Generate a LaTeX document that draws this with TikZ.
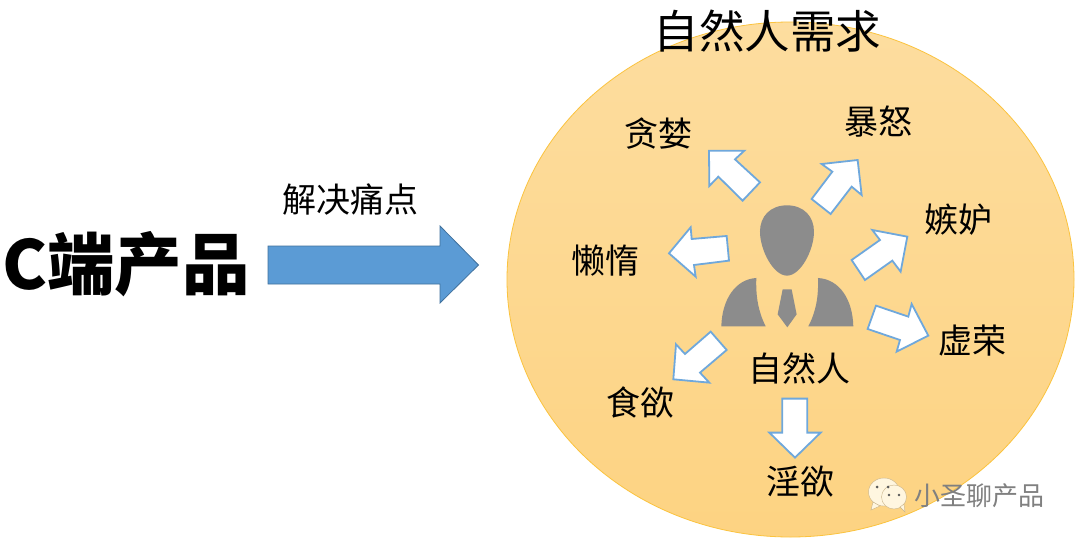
\documentclass[tikz,border=0pt]{standalone}
\usepackage{fontspec}
\setmainfont{Noto Sans CJK SC}
\definecolor{circtop}{HTML}{FDDD9F}
\definecolor{circbot}{HTML}{FDD382}
\definecolor{circline}{HTML}{FBC33E}
\definecolor{bluefill}{HTML}{5B9BD5}
\definecolor{blueline}{HTML}{41719C}
\definecolor{arrowline}{HTML}{6FA8DC}
\definecolor{persongray}{HTML}{8C8C8C}
\definecolor{wmbub}{HTML}{FFF6E0}
\definecolor{wmline}{HTML}{C9B48A}
\tikzset{
  lab/.style={inner sep=0pt, text=black, font=\fontsize{34}{34}\selectfont},
  wh/.style={draw=arrowline, fill=white, line width=1.8pt, line join=miter},
  person/.style={fill=persongray, draw=none},
  bubble/.style={fill=wmbub, draw=wmline, line width=0.4pt},
}
\begin{document}
\begin{tikzpicture}[x=1pt,y=-1pt]
\useasboundingbox (0,0) rectangle (1080,544);
\fill[white] (0,0) rectangle (1080,544);
% circle
\path[top color=circtop,bottom color=circbot,draw=circline,line width=0.8pt] (790.5,279.5) ellipse [x radius=283.5, y radius=257.5];
% blue arrow
\draw[fill=bluefill,draw=blueline,line width=0.8pt] (268,246) -- (440,246) -- (440,226) -- (478.5,265) -- (440,303) -- (440,284) -- (268,284) -- cycle;
% texts
\node[inner sep=0pt,font=\fontsize{67.5}{67.5}\bfseries\selectfont] (cprod) at (126,264) {C端产品};
\node[lab] (solve) at (350,200) {解决痛点};
\node[inner sep=0pt,font=\fontsize{45.5}{45.5}\selectfont] (title) at (767.5,31) {自然人需求};
\node[lab] (a1) at (658,134) {贪婪};
\node[lab] (a2) at (878,122) {暴怒};
\node[lab] (a3) at (958,220) {嫉妒};
\node[lab] (a4) at (972,341) {虚荣};
\node[lab] (a5) at (640,402) {食欲};
\node[lab] (a6) at (800,482) {淫欲};
\node[lab] (a7) at (605,261) {懒惰};
\node[lab] (self) at (799.5,368) {自然人};
% person and arrows, in crop coordinates
\begin{scope}[shift={(660,130)},x=0.3333pt,y=-0.3333pt]
\fill[person] (381,226) .. controls (330,226) and (300,260) .. (300,305) .. controls (300,360) and (340,437) .. (381,437) .. controls (422,437) and (462,360) .. (462,305) .. controls (462,260) and (432,226) .. (381,226) -- cycle;
\fill[person] (184,589) .. controls (186,510) and (225,448) .. (289,444) .. controls (287,500) and (295,545) .. (317,589) -- cycle;
\fill[person] (580,589) .. controls (578,510) and (540,448) .. (474,444) .. controls (476,500) and (468,545) .. (445,589) -- cycle;
\fill[person] (368,478) -- (395,478) -- (410,553) -- (382,592) -- (353,553) -- cycle;
\draw[wh] (147,62) -- (253,62) -- (225,88) -- (300,157) -- (248,212) -- (175,140) -- (148,168) -- cycle;
\draw[wh] (593,90) -- (605,195) -- (575,170) -- (512,252) -- (455,207) -- (517,125) -- (485,102) -- cycle;
\draw[wh] (742,320) -- (722,425) -- (697,392) -- (615,450) -- (575,390) -- (660,330) -- (637,300) -- cycle;
\draw[wh] (805,617) -- (710,665) -- (720,630) -- (623,597) -- (648,527) -- (745,560) -- (755,522) -- cycle;
\draw[wh] (405,983) -- (328,908) -- (367,908) -- (367,806) -- (442,806) -- (442,908) -- (482,908) -- cycle;
\draw[wh] (40,748) -- (148,758) -- (120,728) -- (200,660) -- (152,605) -- (75,672) -- (48,643) -- cycle;
\draw[wh] (27,370) -- (92,292) -- (95,327) -- (200,318) -- (207,392) -- (102,405) -- (107,440) -- cycle;
\end{scope}
% watermark
\fill[bubble] (884,492) ellipse [x radius=15.5, y radius=14];
\fill[bubble] (873,502) -- (871,510) -- (880,506) -- cycle;
\fill[bubble] (894,497) ellipse [x radius=12.5, y radius=12];
\fill[bubble] (900,507) -- (905,512) -- (904,504) -- cycle;
\fill[black!65] (877,487) circle (1.5) (888,487) circle (1.5);
\fill[black!65] (889,495) circle (1.4) (899,495) circle (1.4);
\node[inner sep=0pt,text=black!50,font=\fontsize{26}{26}\selectfont] (wm) at (979,496) {小圣聊产品};
\end{tikzpicture}
\end{document}
